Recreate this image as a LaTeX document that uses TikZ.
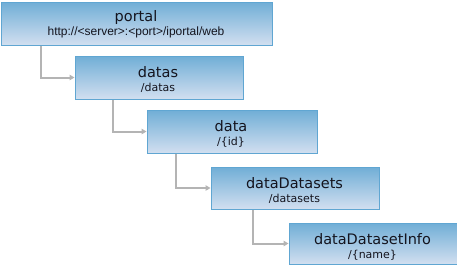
\documentclass[tikz,border=0pt]{standalone}
\usepackage{fontspec}
\setmainfont{DejaVu Sans}
\newfontfamily\urlfont{Liberation Sans}
\usetikzlibrary{arrows.meta}
\definecolor{boxtop}{RGB}{112,174,214}
\definecolor{boxbot}{RGB}{210,223,240}
\definecolor{boxline}{RGB}{96,166,210}
\definecolor{connline}{RGB}{180,180,180}
\definecolor{txt}{RGB}{20,20,30}
\begin{document}
\begin{tikzpicture}[x=1pt,y=-1pt,
  box/.style={draw=boxline, line width=1pt, top color=boxtop, bottom color=boxbot, inner sep=0pt, anchor=north west},
  ttl/.style={anchor=base, inner sep=0pt, text=txt, font=\fontsize{14.5}{14.5}\selectfont},
  sub/.style={anchor=base, inner sep=0pt, text=txt, font=\fontsize{11}{11}\selectfont},
  conn/.style={draw=connline, line width=2pt, -{Triangle[length=5pt,width=5.5pt]}}]
\useasboundingbox (0,0) rectangle (457,265);
% boxes
\node[box, minimum width=271pt, minimum height=43pt] (portal) at (0.5,1.5) {};
\node[box, minimum width=168pt, minimum height=43pt] (datas) at (74.5,55.5) {};
\node[box, minimum width=170pt, minimum height=43pt] (data) at (146.5,109.5) {};
\node[box, minimum width=168pt, minimum height=42pt] (dsets) at (210.5,166.5) {};
\node[box, minimum width=168pt, minimum height=41pt] (info) at (288.5,222.5) {};
% texts
\node[ttl] (portal-t) at (136,21) {portal};
\node[sub, font=\urlfont\fontsize{12}{12}\selectfont] (portal-s) at (136,35) {http://<server>:<port>/iportal/web};
\node[ttl] (datas-t) at (158,77) {datas};
\node[sub] (datas-s) at (158,91) {/datas};
\node[ttl] (data-t) at (231,131) {data};
\node[sub] (data-s) at (231,145) {/\{id\}};
\node[ttl] (dsets-t) at (294.5,188) {dataDatasets};
\node[sub] (dsets-s) at (294.5,202) {/datasets};
\node[ttl] (info-t) at (372.5,244) {dataDatasetInfo};
\node[sub] (info-s) at (372.5,258) {/\{name\}};
% connectors
\draw[conn] ([xshift=40pt]portal.south west) |- (datas.west);
\draw[conn] ([xshift=38.5pt]datas.south west) |- (data.west);
\draw[conn] ([xshift=29pt]data.south west) |- (dsets.west);
\draw[conn] ([xshift=42.5pt]dsets.south west) |- (info.west);
\end{tikzpicture}
\end{document}
